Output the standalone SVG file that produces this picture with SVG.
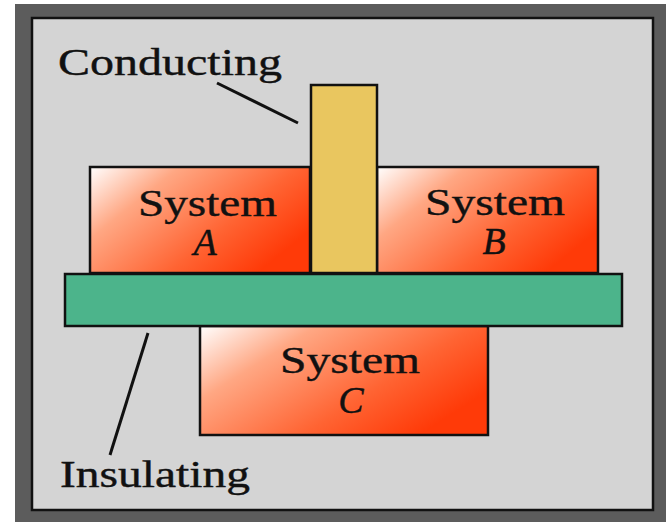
<svg xmlns="http://www.w3.org/2000/svg" width="666" height="522" viewBox="0 0 666 522">
  <defs>
    <linearGradient id="sysGrad" x1="0" y1="0" x2="1" y2="0.6">
      <stop offset="0" stop-color="#ffffff"/>
      <stop offset="0.3" stop-color="#ffa783"/>
      <stop offset="0.7" stop-color="#ff6433"/>
      <stop offset="1" stop-color="#ff3a08"/>
    </linearGradient>
    <style>
      .box { stroke: #111; stroke-width: 2.5; }
      .sys { fill: url(#sysGrad); }
      .lbl { font-family: "Liberation Serif", "Times New Roman", serif; font-size: 38px; fill: #111; stroke: #111; stroke-width: 0.4; }
      .it { font-style: italic; }
      .ptr { stroke: #111; stroke-width: 3; fill: none; }
    </style>
  </defs>
  <rect x="0" y="0" width="666" height="522" fill="#ffffff"/>
  <g id="frame">
    <rect x="15" y="4" width="651" height="518" fill="#5c5c5c"/>
    <rect x="32" y="18" width="621" height="492" fill="#d4d4d4" stroke="#111" stroke-width="2.5"/>
  </g>
  <g id="systemA">
    <rect class="box sys" x="90" y="167" width="220" height="106"/>
    <text class="lbl" x="138" y="216" textLength="139" lengthAdjust="spacingAndGlyphs">System</text>
    <text class="lbl it" x="205" y="255" text-anchor="middle">A</text>
  </g>
  <g id="systemB">
    <rect class="box sys" x="377" y="167" width="221" height="106"/>
    <text class="lbl" x="425" y="215" textLength="140" lengthAdjust="spacingAndGlyphs">System</text>
    <text class="lbl it" x="494" y="254" text-anchor="middle">B</text>
  </g>
  <g id="conductor">
    <rect class="box" x="311" y="85" width="66" height="188" fill="#e9c65f"/>
  </g>
  <g id="systemC">
    <rect class="box sys" x="200" y="326" width="288" height="109"/>
    <text class="lbl" x="280" y="373" textLength="140" lengthAdjust="spacingAndGlyphs">System</text>
    <text class="lbl it" x="351" y="413" text-anchor="middle">C</text>
  </g>
  <g id="insulator">
    <rect class="box" x="65" y="274" width="557" height="52" fill="#4cb48b"/>
  </g>
  <g id="labels">
    <text class="lbl" x="58" y="75" textLength="224" lengthAdjust="spacingAndGlyphs">Conducting</text>
    <text class="lbl" x="60" y="487" textLength="190" lengthAdjust="spacingAndGlyphs">Insulating</text>
  </g>
  <g id="connectors">
    <line class="ptr" x1="217" y1="83" x2="298" y2="123"/>
    <line class="ptr" x1="148" y1="333" x2="110" y2="455"/>
  </g>
</svg>
